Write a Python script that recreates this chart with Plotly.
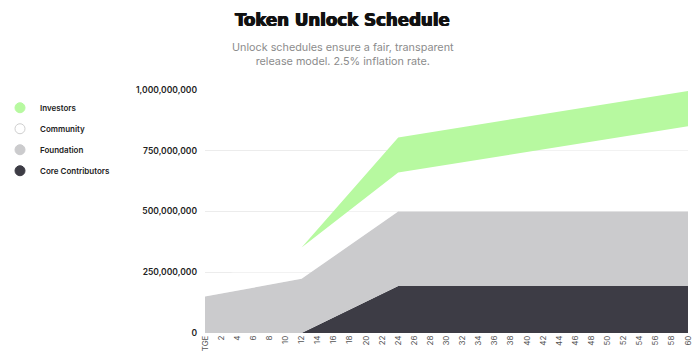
import plotly.graph_objects as go

# ---- data ----
months = [0, 12, 24, 60]
tick_vals = list(range(0, 61, 2))
tick_text = ["TGE"] + [str(v) for v in range(2, 61, 2)]

core_contributors = [0, 0, 193e6, 193e6]
foundation = [150e6, 223e6, 307e6, 307e6]
community = [60e6, 129e6, 160e6, 351e6]
investors = [0, 0, 145e6, 145e6]

series_names = ["Core Contributors", "Foundation", "Community", "Investors"]
series_values = [core_contributors, foundation, community, investors]
fill_colors = ["#3d3c45", "#cbcbcd", "rgba(255,255,255,0.3)", "#b7f9a0"]
legend_colors = ["#3d3c45", "#cbcbcd", "#ffffff", "#b7f9a0"]
legend_lines = ["#3d3c45", "#cbcbcd", "#cfcfcf", "#b7f9a0"]

fig = go.Figure()
for name, vals, fc in zip(series_names, series_values, fill_colors):
    fig.add_trace(go.Scatter(
        x=months, y=vals, name=name, stackgroup="one", mode="lines",
        line=dict(width=0, color=fc), fillcolor=fc, showlegend=False,
        hovertemplate="%{y:,.0f}<extra>" + name + "</extra>"))

legend_order = ["Investors", "Community", "Foundation", "Core Contributors"]
for rank, name in enumerate(legend_order):
    i = series_names.index(name)
    fig.add_trace(go.Scatter(
        x=[None], y=[None], mode="markers", name=name, legendgroup=name,
        legendrank=rank + 1,
        marker=dict(size=10, color=legend_colors[i],
                    line=dict(color=legend_lines[i], width=1))))

fig.update_layout(
    width=700, height=360,
    margin=dict(l=205, r=12, t=90, b=27),
    paper_bgcolor="#ffffff", plot_bgcolor="#ffffff",
    font=dict(family="Inter, Roboto, sans-serif", color="#222"),
    showlegend=True,
    legend=dict(xref="container", yref="container",
                x=0, xanchor="left", y=0.741, yanchor="top",
                traceorder="grouped", tracegroupgap=2,
                font=dict(size=8, color="#222", weight=600),
                bgcolor="rgba(0,0,0,0)", itemclick=False),
    xaxis=dict(range=[0, 60], tickmode="array", tickvals=tick_vals,
               ticktext=tick_text, tickangle=-90, showgrid=False,
               zeroline=False, showline=False, ticks="", automargin=False,
               tickfont=dict(size=8, color="#555")),
    yaxis=dict(range=[0, 1e9], tickmode="array",
               tickvals=[0, 250e6, 500e6, 750e6, 1e9],
               ticktext=["0", "250,000,000", "500,000,000", "750,000,000", "1,000,000,000"],
               showgrid=True, gridcolor="#ececec", gridwidth=1,
               zeroline=False, showline=False, ticks="", automargin=False,
               ticklabelstandoff=7,
               tickfont=dict(size=8.5, color="#222", weight=600)),
    annotations=[
        dict(text="Token Unlock Schedule", xref="paper", yref="paper",
             x=0.285, y=1.292, xanchor="center", yanchor="middle",
             showarrow=False,
             font=dict(family="DejaVu Sans Condensed, sans-serif",
                       size=18.5, color="#111", weight="bold",
                       shadow="0.6px 0 0 #111, -0.6px 0 0 #111")),
        dict(text="Unlock schedules ensure a fair, transparent<br>release model. 2.5% inflation rate.",
             xref="paper", yref="paper", x=0.285, y=1.146,
             xanchor="center", yanchor="middle", showarrow=False, align="center",
             font=dict(size=10.8, color="#8c8c8c")),
    ],
)

fig.write_html("out.html", config={"displayModeBar": False},
               post_script="document.body.style.margin='0';")
